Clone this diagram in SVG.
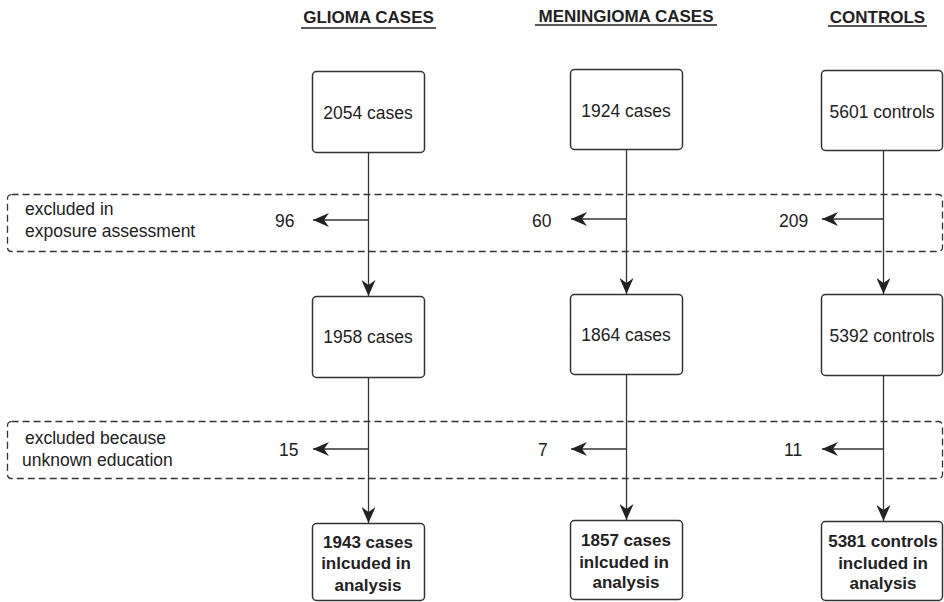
<svg xmlns="http://www.w3.org/2000/svg" width="944" height="602" viewBox="0 0 944 602">
<defs>
<style>
text{font-family:"Liberation Sans",Arial,sans-serif;fill:#222;}
.n{font-size:17.5px;text-anchor:middle;}
.l{font-size:17.5px;}
.b{font-size:17px;font-weight:bold;text-anchor:middle;}
.box{fill:#fff;stroke:#333;stroke-width:1.5;}
.dash{fill:none;stroke:#333;stroke-width:1.3;stroke-dasharray:7 4;}
.c{fill:none;stroke:#333;stroke-width:1.3;}
.ul{stroke:#222;stroke-width:1.3;}
</style>
<marker id="ah" viewBox="0 0 16 14" refX="16" refY="7" markerWidth="16" markerHeight="14" markerUnits="userSpaceOnUse" orient="auto">
<path d="M0,0 L16,7 L0,14 L5,7 Z" fill="#222"/>
</marker>
</defs>
<rect width="944" height="602" fill="#fff"/>

<g id="headers">
<text class="b" x="368.5" y="23">GLIOMA CASES</text>
<line class="ul" x1="301" y1="28" x2="436" y2="28"/>
<text class="b" x="626" y="22">MENINGIOMA CASES</text>
<line class="ul" x1="535" y1="25" x2="717" y2="25"/>
<text class="b" x="877.5" y="23">CONTROLS</text>
<line class="ul" x1="828" y1="26" x2="927" y2="26"/>
</g>

<g id="exclusion1">
<rect class="dash" x="7.5" y="194.5" width="935" height="57" rx="4"/>
<text class="l" x="25" y="215">excluded in</text>
<text class="l" x="25" y="237">exposure assessment</text>
</g>
<g id="exclusion2">
<rect class="dash" x="7.5" y="421.5" width="935" height="57" rx="4"/>
<text class="l" x="25" y="444">excluded because</text>
<text class="l" x="22" y="466">unknown education</text>
</g>

<g id="connectors">
<line class="c" x1="368.5" y1="152" x2="368.5" y2="296" marker-end="url(#ah)"/>
<line class="c" x1="368.5" y1="220" x2="313" y2="220" marker-end="url(#ah)"/>
<line class="c" x1="368.5" y1="377" x2="368.5" y2="523" marker-end="url(#ah)"/>
<line class="c" x1="368.5" y1="449" x2="313" y2="449" marker-end="url(#ah)"/>
<line class="c" x1="626.5" y1="149" x2="626.5" y2="294" marker-end="url(#ah)"/>
<line class="c" x1="626.5" y1="219" x2="571" y2="219" marker-end="url(#ah)"/>
<line class="c" x1="626.5" y1="374" x2="626.5" y2="520" marker-end="url(#ah)"/>
<line class="c" x1="626.5" y1="449" x2="571" y2="449" marker-end="url(#ah)"/>
<line class="c" x1="883.5" y1="150" x2="883.5" y2="294" marker-end="url(#ah)"/>
<line class="c" x1="883.5" y1="219" x2="822" y2="219" marker-end="url(#ah)"/>
<line class="c" x1="883.5" y1="375" x2="883.5" y2="521" marker-end="url(#ah)"/>
<line class="c" x1="883.5" y1="449" x2="822" y2="449" marker-end="url(#ah)"/>
</g>

<g id="counts">
<text class="l" x="275" y="227">96</text>
<text class="l" x="532" y="227">60</text>
<text class="l" x="779" y="227">209</text>
<text class="l" x="279" y="456">15</text>
<text class="l" x="538" y="456">7</text>
<text class="l" x="784" y="456">11</text>
</g>

<g id="glioma1"><rect class="box" x="312.5" y="71.5" width="112" height="81" rx="4"/><text class="n" x="368" y="119">2054 cases</text></g>
<g id="mening1"><rect class="box" x="570.5" y="69.5" width="112" height="80" rx="4"/><text class="n" x="626" y="117">1924 cases</text></g>
<g id="control1"><rect class="box" x="821.5" y="70.5" width="121" height="80" rx="4"/><text class="n" x="882" y="118">5601 controls</text></g>

<g id="glioma2"><rect class="box" x="312.5" y="296.5" width="112" height="81" rx="4"/><text class="n" x="368" y="343">1958 cases</text></g>
<g id="mening2"><rect class="box" x="570.5" y="294.5" width="112" height="80" rx="4"/><text class="n" x="626" y="341">1864 cases</text></g>
<g id="control2"><rect class="box" x="821.5" y="294.5" width="121" height="81" rx="4"/><text class="n" x="882" y="342">5392 controls</text></g>

<g id="glioma3"><rect class="box" x="312.5" y="523.5" width="112" height="77" rx="4"/>
<text class="b" x="368" y="548">1943 cases</text><text class="b" x="366" y="569">inlcuded in</text><text class="b" x="368" y="591">analysis</text></g>
<g id="mening3"><rect class="box" x="570.5" y="520.5" width="112" height="79" rx="4"/>
<text class="b" x="626" y="546">1857 cases</text><text class="b" x="624" y="568">inlcuded in</text><text class="b" x="626" y="588">analysis</text></g>
<g id="control3"><rect class="box" x="821.5" y="521.5" width="121" height="79" rx="4"/>
<text class="b" x="883" y="547">5381 controls</text><text class="b" x="883" y="569">included in</text><text class="b" x="883" y="589">analysis</text></g>
</svg>
